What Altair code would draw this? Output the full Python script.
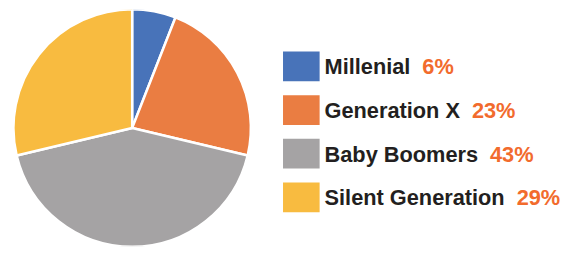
import altair as alt
import pandas as pd

categories = ["Millenial", "Generation X", "Baby Boomers", "Silent Generation"]
values = [6, 23, 43, 29]
pct_labels = ["6%", "23%", "43%", "29%"]
colors = ["#4873b9", "#ea7d42", "#a5a3a4", "#f8bb40"]

FONT = "Liberation Sans"
FS = 22
# approximate Liberation Sans Bold advance widths (per 1000 em) for label layout
CW = {"M": 833, "i": 278, "l": 278, "e": 556, "n": 611, "a": 556, "G": 778, "r": 389,
      "t": 333, "o": 611, " ": 278, "X": 667, "B": 722, "b": 611, "y": 556, "m": 889,
      "s": 556, "S": 667}
LABEL_X = 42
GAP = 12
H = 240


def text_w(s):
    return sum(CW.get(c, 600) for c in s) / 1000 * FS


df = pd.DataFrame({
    "cat": categories,
    "value": values,
    "pct": pct_labels,
    "idx": list(range(len(categories))),
})
df["pct_x"] = [LABEL_X + text_w(c) + GAP for c in categories]

color_scale = alt.Scale(domain=categories, range=colors)

pie = alt.Chart(df).mark_arc(outerRadius=120, stroke="white", strokeWidth=2.5,
                             strokeJoin="round", clip=True).encode(
    theta=alt.Theta("value:Q", stack=True),
    order=alt.Order("idx:Q"),
    color=alt.Color("cat:N", scale=color_scale, legend=None),
).properties(width=251, height=H)


def yenc():
    return alt.Y("cat:N", sort=categories, axis=None,
                 scale=alt.Scale(paddingInner=0.318, paddingOuter=0.88, align=0.55))


squares = alt.Chart(df).mark_rect().encode(
    x=alt.value(0), x2=alt.value(37),
    y=yenc(),
    color=alt.Color("cat:N", scale=color_scale, legend=None),
)

labels = alt.Chart(df).mark_text(
    align="left", baseline="middle", font=FONT, fontSize=FS, fontWeight="bold",
    color="#231f20", dy=1,
).encode(
    x=alt.value(LABEL_X),
    y=yenc(),
    text="cat:N",
)

pcts = alt.Chart(df).mark_text(
    align="left", baseline="middle", font=FONT, fontSize=FS, fontWeight="bold",
    color="#f26b2d", dy=1,
).encode(
    x=alt.X("pct_x:Q", scale=None),
    y=yenc(),
    text="pct:N",
)

legend = alt.layer(squares, labels, pcts).properties(width=270, height=H)

chart = alt.hconcat(pie, legend, spacing=27).properties(
    padding=0, background="white"
).configure_view(stroke=None)

chart.save("out.html", embed_options={"renderer": "svg", "actions": False})
